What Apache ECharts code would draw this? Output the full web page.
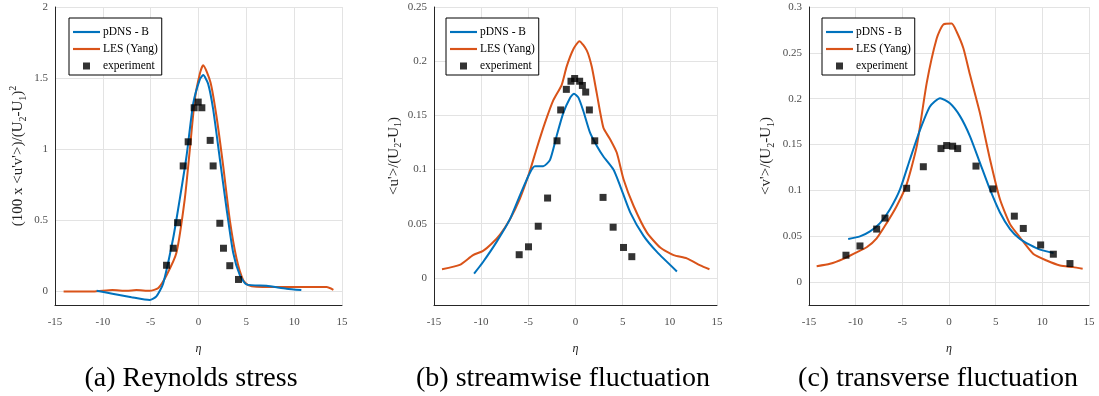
<!DOCTYPE html>
<html><head><meta charset="utf-8">
<script src="https://cdn.jsdelivr.net/npm/echarts@6/dist/echarts.min.js"></script>
<style>html,body{margin:0;padding:0;background:#fff}#c{width:1099px;height:396px}</style>
</head><body><div id="c"></div>
<script>
// ---- data (eta, value) ----
const xTicks = [-15,-10,-5,0,5,10,15];
const seriesNames = ['pDNS - B','LES (Yang)','experiment'];
const subtitles = ['(a) Reynolds stress','(b) streamwise fluctuation','(c) transverse fluctuation'];

const aDNS = [[-10.65,0],[-9,-0.02],[-7,-0.045],[-5.1,-0.065],[-4.4,-0.04],[-3.7,0.05],[-2.65,0.37],[-1.95,0.65],[-1.25,0.95],[-0.55,1.32],[0.14,1.49],[0.49,1.52],[1.0,1.46],[1.53,1.28],[2.23,0.93],[2.93,0.58],[3.62,0.27],[4.32,0.11],[5.0,0.045],[7.1,0.035],[9.2,0.015],[10.75,0.005]];
const aLES = [[-14.1,-0.005],[-11,-0.005],[-9,0.005],[-7.5,0],[-6.5,0.005],[-5.1,0],[-4.2,0.02],[-3.34,0.11],[-2.3,0.27],[-1.43,0.65],[-0.9,1.0],[-0.38,1.35],[0.14,1.53],[0.49,1.59],[1.25,1.47],[1.88,1.23],[2.58,0.88],[3.27,0.5],[3.97,0.23],[4.67,0.075],[5.2,0.04],[6.06,0.028],[8.8,0.026],[13.4,0.026],[14.1,0.007]];
const aEXP = [[-3.34,0.18],[-2.64,0.30],[-2.19,0.48],[-1.6,0.88],[-1.08,1.05],[-0.45,1.29],[-0.03,1.33],[0.35,1.29],[1.22,1.06],[1.53,0.88],[2.23,0.476],[2.61,0.30],[3.27,0.177],[4.18,0.08]];

const bDNS = [[-10.75,0.004],[-9.8,0.0147],[-8.38,0.033],[-6.96,0.054],[-5.9,0.076],[-4.83,0.097],[-4.3,0.103],[-3.42,0.103],[-2.7,0.109],[-2.0,0.131],[-1.3,0.152],[-0.58,0.166],[-0.16,0.17],[0.3,0.1666],[0.83,0.154],[1.54,0.134],[2.25,0.122],[2.96,0.112],[4.02,0.1],[4.73,0.085],[5.8,0.0605],[7.2,0.039],[8.63,0.024],[10.75,0.006]];
const bLES = [[-14.15,0.008],[-12.27,0.012],[-10.86,0.021],[-9.8,0.025],[-8.9,0.0315],[-8.0,0.04],[-6.96,0.054],[-5.9,0.073],[-4.9,0.097],[-4.13,0.119],[-3.24,0.143],[-2.35,0.164],[-1.47,0.178],[-0.94,0.195],[-0.23,0.211],[0.41,0.2185],[1.19,0.21],[1.72,0.195],[2.25,0.1705],[2.96,0.1385],[3.67,0.128],[4.38,0.1155],[5.09,0.091],[6.15,0.0666],[7.56,0.042],[8.98,0.028],[10.4,0.021],[11.8,0.018],[13.23,0.0116],[14.2,0.008]];
const bEXP = [[-5.97,0.0214],[-4.98,0.0287],[-3.95,0.0477],[-2.96,0.0737],[-1.96,0.1265],[-1.57,0.155],[-0.97,0.174],[-0.48,0.1815],[-0.09,0.184],[0.44,0.1815],[0.73,0.1776],[1.08,0.1715],[1.47,0.155],[2.04,0.1265],[2.92,0.0743],[3.99,0.0468],[5.09,0.0281],[5.97,0.0196]];

const cDNS = [[-10.8,0.047],[-9.54,0.0499],[-8.46,0.0553],[-7.39,0.0643],[-6.32,0.0795],[-5.25,0.101],[-4.18,0.134],[-3.1,0.166],[-2.04,0.1915],[-0.96,0.2006],[0.1,0.195],[1.18,0.181],[2.25,0.159],[3.32,0.130],[4.39,0.101],[5.46,0.0759],[6.54,0.0578],[7.6,0.047],[8.68,0.0405],[9.75,0.0354],[11.2,0.0318]];
const cLES = [[-14.18,0.0173],[-12.75,0.0199],[-11.32,0.0253],[-9.9,0.0325],[-8.82,0.038],[-7.75,0.0477],[-6.68,0.0643],[-5.6,0.083],[-4.54,0.1066],[-3.46,0.148],[-2.39,0.217],[-1.32,0.2656],[-0.6,0.281],[0.29,0.2819],[0.82,0.273],[1.54,0.255],[2.25,0.226],[3.32,0.184],[4.39,0.134],[5.46,0.0903],[6.54,0.0632],[7.6,0.0488],[9.04,0.0307],[10.46,0.0235],[11.9,0.0181],[13.3,0.0163],[14.32,0.0145]];
const cEXP = [[-11.04,0.0293],[-9.54,0.0394],[-7.75,0.0578],[-6.86,0.0698],[-4.54,0.1023],[-2.75,0.1258],[-0.86,0.1456],[-0.25,0.1489],[0.39,0.1482],[0.93,0.1456],[2.89,0.1265],[4.71,0.1016],[7.0,0.0719],[7.96,0.0585],[9.82,0.0405],[11.18,0.0304],[12.96,0.0202]];

const yRanges = [[-0.1,2],[-0.025,0.25],[-0.025,0.3]];
const ySplit = [5,6,6];
// ---- layout ----
const grids = [
  {left:55, width:287, top:7, height:298},
  {left:434, width:283, top:7, height:298},
  {left:809, width:280, top:7, height:298}
];
const legendPos = [[69,18],[446,18],[822,18]];
const nameGaps = [27,28,33];
const subX = [191,563,938];

const BLUE='#0072BD', ORANGE='#D95319';
const rich = {
  sub:{fontFamily:'Liberation Serif',fontSize:10,color:'#222',verticalAlign:'bottom',padding:[9,0,0,0]},
  sup:{fontFamily:'Liberation Serif',fontSize:10,color:'#222',verticalAlign:'top',padding:[0,0,9,0]}
};
const yNames = [
  "(100 x <u'v'>)/(U{sub|2}-U{sub|1}){sup|2}",
  "<u'>/(U{sub|2}-U{sub|1})",
  "<v'>/(U{sub|2}-U{sub|1})"
];
const allData = [[aDNS,aLES,aEXP],[bDNS,bLES,bEXP],[cDNS,cLES,cEXP]];
const LINE_ICON = 'path://M0,0L100,0L100,8L0,8Z';
const SQ_ICON = 'path://M0,0L10,0L10,10L0,10Z';

const option = {
  animation:false,
  backgroundColor:'#fff',
  grid: grids,
  xAxis: grids.map((g,i)=>({
    type:'value', gridIndex:i, min:-15, max:15, interval:5,
    name:'η', nameLocation:'middle', nameGap:38,
    nameTextStyle:{fontFamily:'Liberation Serif',fontStyle:'italic',fontSize:12,color:'#222'},
    axisLine:{show:true,onZero:false,lineStyle:{color:'#262626',width:1}},
    axisTick:{show:false},
    axisLabel:{fontFamily:'Liberation Serif',fontSize:11,color:'#4d4d4d',margin:12},
    splitLine:{show:true,lineStyle:{color:'#e3e3e3',width:1}}
  })),
  yAxis: grids.map((g,i)=>({
    type:'value', gridIndex:i, min:yRanges[i][0], max:yRanges[i][1], splitNumber:ySplit[i],
    name:yNames[i], nameLocation:'middle', nameGap:nameGaps[i],
    nameTextStyle:{fontFamily:'Liberation Serif',fontSize:15,color:'#222',rich:rich,lineHeight:20},
    axisLine:{show:true,onZero:false,lineStyle:{color:'#262626',width:1}},
    axisTick:{show:false},
    axisLabel:{fontFamily:'Liberation Serif',fontSize:11,color:'#4d4d4d',margin:7,showMinLabel:false},
    splitLine:{show:true,lineStyle:{color:'#e3e3e3',width:1}}
  })),
  legend: legendPos.map((p,i)=>({
    left:p[0], top:p[1], orient:'vertical',
    data:[{name:seriesNames[0],icon:LINE_ICON},{name:seriesNames[1],icon:LINE_ICON},{name:seriesNames[2],icon:SQ_ICON}],
    symbolKeepAspect:true,
    backgroundColor:'#fff', borderColor:'#000', borderWidth:1, borderRadius:0,
    padding:[8,4,3,4], itemWidth:27, itemHeight:7, itemGap:5,
    textStyle:{fontFamily:'Liberation Serif',fontSize:11.5,color:'#000',padding:[0,0,0,-2]},
    selectedMode:false
  })),
  graphic: subtitles.map((t,i)=>({
    type:'text', x:subX[i], y:379,
    style:{text:t, fontFamily:'Liberation Serif', fontSize:28, fill:'#000', align:'center', verticalAlign:'middle'}
  })),
  series: []
};
allData.forEach((ds,i)=>{
  option.series.push({name:seriesNames[0],type:'line',xAxisIndex:i,yAxisIndex:i,data:ds[0],showSymbol:false,symbol:'none',smooth:0.2,lineStyle:{color:BLUE,width:2},itemStyle:{color:BLUE},z:3});
  option.series.push({name:seriesNames[1],type:'line',xAxisIndex:i,yAxisIndex:i,data:ds[1],showSymbol:false,symbol:'none',smooth:0.2,lineStyle:{color:ORANGE,width:2},itemStyle:{color:ORANGE},z:2});
  option.series.push({name:seriesNames[2],type:'scatter',xAxisIndex:i,yAxisIndex:i,data:ds[2],symbol:'rect',symbolSize:7,itemStyle:{color:'#000'},z:4});
});
const chart = echarts.init(document.getElementById('c'),null,{renderer:'canvas'});
chart.setOption(option);
</script></body></html>
